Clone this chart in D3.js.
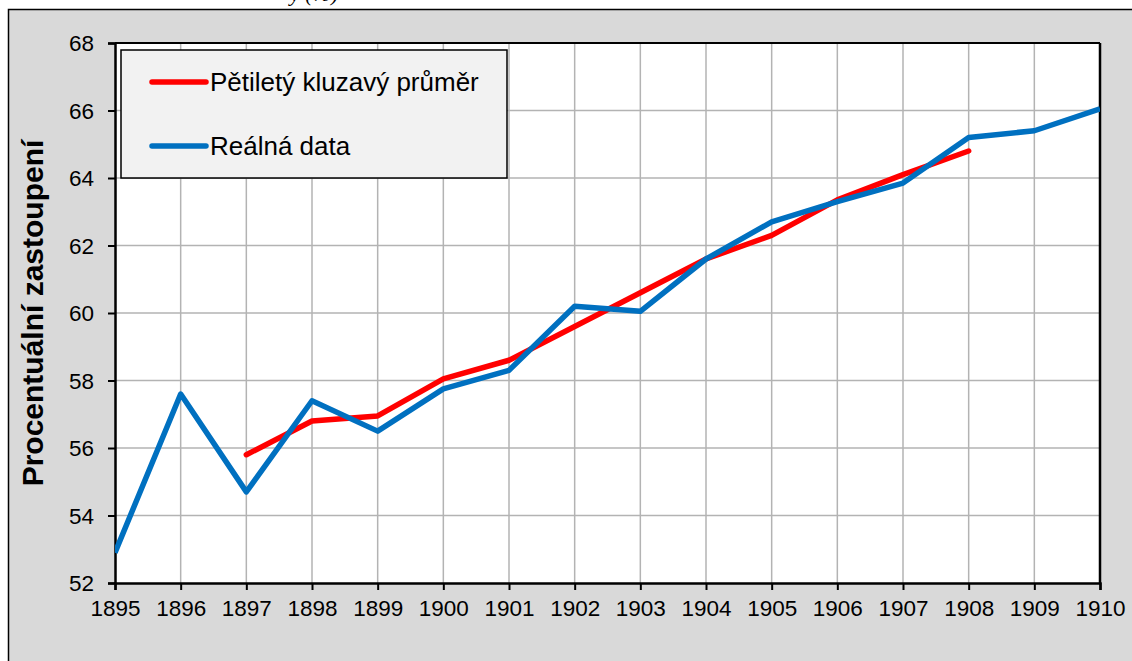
<!DOCTYPE html>
<html>
<head>
<meta charset="utf-8">
<script src="https://cdn.jsdelivr.net/npm/d3@7"></script>
<style>
  body { margin: 0; background: #fff; }
  svg { display: block; font-family: "Liberation Sans", Arial, sans-serif; }
  .grid line { stroke: #b3b3b3; stroke-width: 1.5; }
</style>
</head>
<body>
<div id="chart"></div>
<script>
// data
const years = [1895, 1896, 1897, 1898, 1899, 1900, 1901, 1902, 1903, 1904, 1905, 1906, 1907, 1908, 1909, 1910];
const realValues = [52.9, 57.6, 54.7, 57.4, 56.5, 57.75, 58.3, 60.2, 60.05, 61.6, 62.7, 63.3, 63.85, 65.2, 65.4, 66.05];
const avgYears = [1897, 1898, 1899, 1900, 1901, 1902, 1903, 1904, 1905, 1906, 1907, 1908];
const avgValues = [55.8, 56.8, 56.95, 58.05, 58.6, 59.6, 60.6, 61.6, 62.3, 63.35, 64.1, 64.8];
const yTicks = [52, 54, 56, 58, 60, 62, 64, 66, 68];
const legendLabels = ["Pětiletý kluzavý průměr", "Reálná data"];
const seriesColors = ["#ff0000", "#0070c0"];

const W = 1132, H = 661;
const margin = {top: 43, right: 32, bottom: 78, left: 115};

const svg = d3.select("#chart").append("svg")
    .attr("width", W)
    .attr("height", H);

// caption of the page above, cut off as in the source
svg.append("text")
    .attr("x", 290)
    .attr("y", 1)
    .style("font-family", "'Liberation Serif', serif")
    .style("font-style", "italic")
    .style("font-size", "22px")
    .text("y (%)");

// outer chart box
svg.append("rect")
    .attr("x", 8.5).attr("y", 9.5)
    .attr("width", W + 20).attr("height", H + 20)
    .attr("fill", "#d9d9d9")
    .attr("stroke", "#000")
    .attr("stroke-width", 1.5);

const x = d3.scaleLinear()
    .domain([1895, 1910])
    .range([margin.left, W - margin.right]);

const y = d3.scaleLinear()
    .domain([52, 68])
    .range([H - margin.bottom, margin.top]);

// plot area
svg.append("rect")
    .attr("x", x(1895)).attr("y", y(68))
    .attr("width", x(1910) - x(1895))
    .attr("height", y(52) - y(68))
    .attr("fill", "#fff");

// grid
svg.append("g").attr("class", "grid")
    .selectAll("line")
    .data(years.slice(1, -1))
    .join("line")
    .attr("x1", d => x(d)).attr("x2", d => x(d))
    .attr("y1", y(68)).attr("y2", y(52));

svg.append("g").attr("class", "grid")
    .selectAll("line")
    .data(yTicks.slice(1))
    .join("line")
    .attr("x1", x(1895)).attr("x2", x(1910))
    .attr("y1", d => y(d)).attr("y2", d => y(d));

// axes
const yAxis = svg.append("g")
    .attr("transform", `translate(${x(1895)},0)`)
    .call(d3.axisLeft(y).tickValues(yTicks).tickSize(7).tickPadding(14).tickFormat(d3.format("d")));

const xAxis = svg.append("g")
    .attr("transform", `translate(0,${y(52)})`)
    .call(d3.axisBottom(x).tickValues(years).tickSize(7).tickPadding(6).tickFormat(d3.format("d")));

[yAxis, xAxis].forEach(a => {
    a.select(".domain").attr("stroke", "#000").attr("stroke-width", 2.5);
    a.selectAll(".tick line").attr("stroke", "#000").attr("stroke-width", 2);
    a.selectAll(".tick text")
        .attr("fill", "#000")
        .style("font-size", "22.5px")
        .style("font-family", "'Liberation Sans', Arial, sans-serif");
});
xAxis.selectAll(".tick text").attr("dy", "0.9em");
yAxis.selectAll(".tick text").attr("dy", "0.35em");

// right and top border of plot area
svg.append("line")
    .attr("x1", x(1910)).attr("x2", x(1910))
    .attr("y1", y(68)).attr("y2", y(52))
    .attr("stroke", "#000").attr("stroke-width", 2.5);
svg.append("line")
    .attr("x1", x(1895)).attr("x2", x(1910))
    .attr("y1", y(68)).attr("y2", y(68))
    .attr("stroke", "#000").attr("stroke-width", 2);

// y axis title
svg.append("text")
    .attr("transform", `translate(43,${(y(52) + y(68)) / 2}) rotate(-90)`)
    .attr("text-anchor", "middle")
    .style("font-size", "30px")
    .style("font-weight", "bold")
    .text("Procentuální zastoupení");

// lines
const line = d3.line()
    .x(d => x(d[0]))
    .y(d => y(d[1]));

svg.append("clipPath").attr("id", "plot-clip")
    .append("rect")
    .attr("x", x(1895)).attr("y", y(68) - 5)
    .attr("width", x(1910) - x(1895))
    .attr("height", y(52) - y(68) + 5);

svg.append("path")
    .datum(avgYears.map((d, i) => [d, avgValues[i]]))
    .attr("d", line)
    .attr("fill", "none")
    .attr("stroke", seriesColors[0])
    .attr("stroke-width", 5.5)
    .attr("stroke-linecap", "round")
    .attr("stroke-linejoin", "round");

svg.append("path")
    .datum(years.map((d, i) => [d, realValues[i]]))
    .attr("d", line)
    .attr("clip-path", "url(#plot-clip)")
    .attr("fill", "none")
    .attr("stroke", seriesColors[1])
    .attr("stroke-width", 5.5)
    .attr("stroke-linejoin", "round");

// legend
const legend = svg.append("g").attr("transform", "translate(121,50)");
legend.append("rect")
    .attr("width", 386).attr("height", 128)
    .attr("fill", "#f2f2f2")
    .attr("stroke", "#000")
    .attr("stroke-width", 1.5);

const items = legend.selectAll(".legend-item")
    .data(legendLabels)
    .join("g")
    .attr("class", "legend-item")
    .attr("transform", (d, i) => `translate(0,${32 + i * 64})`);

items.append("line")
    .attr("x1", 31).attr("x2", 85)
    .attr("stroke", (d, i) => seriesColors[i])
    .attr("stroke-width", 5.5)
    .attr("stroke-linecap", "round");

items.append("text")
    .attr("x", 89)
    .attr("dy", "0.35em")
    .style("font-size", "26px")
    .text(d => d);
</script>
</body>
</html>
